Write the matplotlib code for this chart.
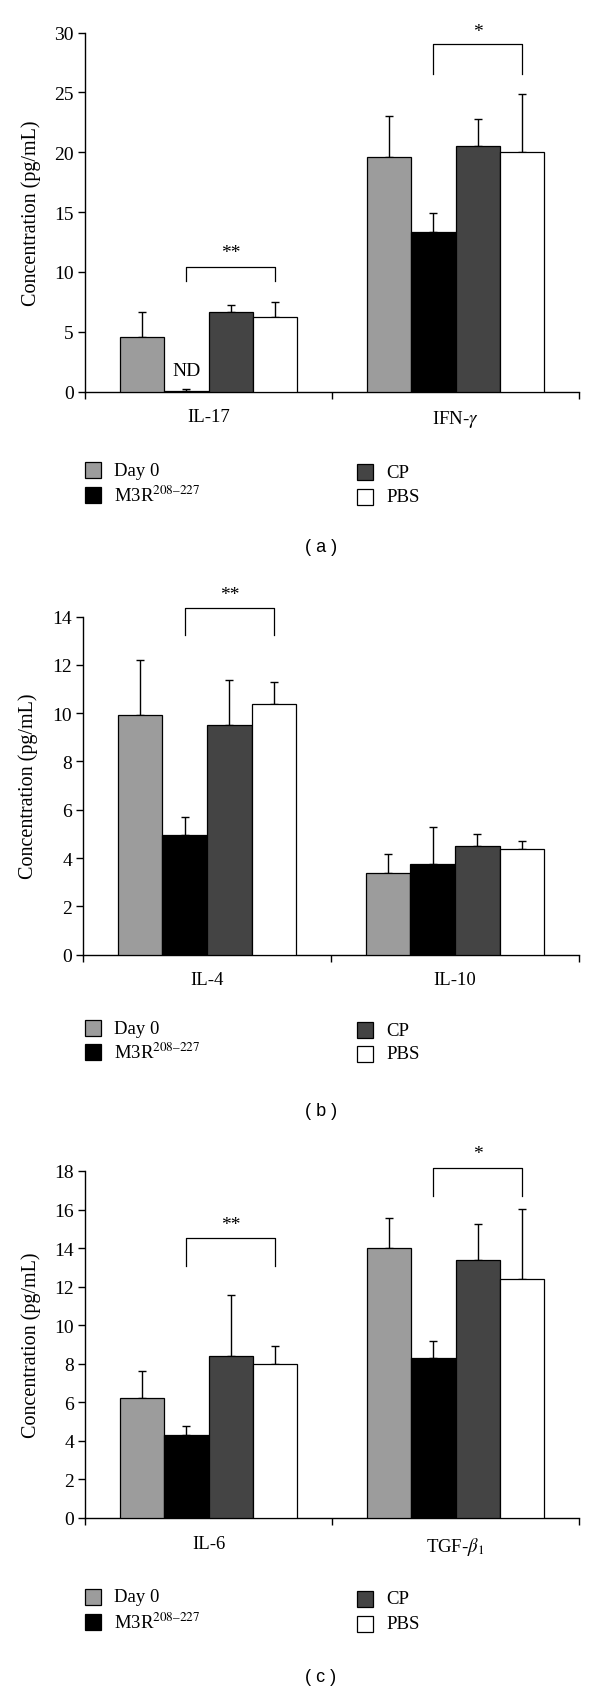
import numpy as np
import matplotlib
matplotlib.use('Agg')
import matplotlib.pyplot as plt
from matplotlib.patches import Rectangle

### Données
groupes = ['Day 0', 'M3R$^{208\u2013227}$', 'CP', 'PBS']
couleurs = ['#9c9c9c', '#000000', '#444444', '#ffffff']

# Panneau (a)
cyto_a = ['IL-17', 'IFN-$\\gamma$']
moy_a = {'Day 0': [4.6, 19.64], 'M3R': [0.1, 13.34], 'CP': [6.63, 20.5], 'PBS': [6.27, 20.0]}
err_a = {'Day 0': [2.03, 3.35], 'M3R': [0.15, 1.62], 'CP': [0.62, 2.25], 'PBS': [1.25, 4.87]}
ticks_a = [0, 5, 10, 15, 20, 25, 30]
sig_a = [(0, 9.25, 10.39, '**', 11.6), (1, 26.57, 29.0, '*', 30.1)]

# Panneau (b)
cyto_b = ['IL-4', 'IL-10']
moy_b = {'Day 0': [9.92, 3.39], 'M3R': [4.97, 3.75], 'CP': [9.5, 4.52], 'PBS': [10.38, 4.38]}
err_b = {'Day 0': [2.28, 0.78], 'M3R': [0.75, 1.53], 'CP': [1.89, 0.46], 'PBS': [0.89, 0.34]}
ticks_b = [0, 2, 4, 6, 8, 10, 12, 14]
sig_b = [(0, 13.22, 14.37, '**', 14.93)]

# Panneau (c)
cyto_c = ['IL-6', 'TGF-$\\beta_1$']
moy_c = {'Day 0': [6.22, 14.0], 'M3R': [4.32, 8.31], 'CP': [8.39, 13.38], 'PBS': [7.97, 12.4]}
err_c = {'Day 0': [1.39, 1.57], 'M3R': [0.45, 0.87], 'CP': [3.16, 1.89], 'PBS': [0.94, 3.62]}
ticks_c = [0, 2, 4, 6, 8, 10, 12, 14, 16, 18]
sig_c = [(0, 13.06, 14.51, '**', 15.23), (1, 16.7, 18.15, '*', 18.9)]

cles = ['Day 0', 'M3R', 'CP', 'PBS']

#############################################################
##################### Figure ###############################
#############################################################
plt.rcParams.update({'font.family': 'Liberation Serif',
                     'mathtext.fontset': 'stix',
                     'font.size': 14})

fig = plt.figure(figsize=(6, 16.9), dpi=100)
W, H = 600., 1690.

largeur = 0.18

def panneau(haut_px, bas_px, gauche_px, cyto, moy, err, ticks, sig, lettre, leg_px, lab_px):
    ax = fig.add_axes([gauche_px / W, 1 - bas_px / H, (579 - gauche_px) / W, (bas_px - haut_px) / H])
    centres = np.array([0.5, 1.5])
    for i, cle in enumerate(cles):
        x = centres + (i - 1.5) * largeur
        ax.bar(x, moy[cle], width=largeur, color=couleurs[i], edgecolor='black',
               linewidth=0.9, zorder=3)
        ax.errorbar(x, moy[cle], yerr=[np.zeros(len(x)), err[cle]], fmt='none',
                    ecolor='black', elinewidth=1.0, capsize=3, capthick=1.0, zorder=2)

    # crochets de significativité (M3R vs PBS)
    for g, bas, haut, etoiles, y_et in sig:
        x1 = centres[g] - 0.5 * largeur
        x2 = centres[g] + 1.5 * largeur
        ax.plot([x1, x1, x2, x2], [bas, haut, haut, bas], color='black', lw=0.9, clip_on=False)
        ax.text((x1 + x2) / 2, y_et, etoiles, ha='center', va='center', fontsize=14)

    ax.set_xlim(0, 2)
    ax.set_ylim(0, ticks[-1])
    ax.set_yticks(ticks)
    ax.set_xticks([0, 1, 2])
    ax.set_xticklabels([])
    ax.set_xticks(centres, minor=True)
    ax.set_xticklabels(cyto, minor=True, fontsize=13.5)
    ax.tick_params(axis='x', which='minor', length=0, pad=12)
    ax.tick_params(axis='both', which='major', direction='out', length=5, width=1)
    ax.tick_params(axis='y', pad=3, labelsize=14)
    for s in ['top', 'right']:
        ax.spines[s].set_visible(False)
    for s in ['left', 'bottom']:
        ax.spines[s].set_linewidth(1.0)
    ax.set_ylabel('Concentration (pg/mL)', fontsize=14.5)
    ax.yaxis.set_label_coords(-0.09, 0.5)

    # légende à la main
    y1, y2 = leg_px
    for i, nom in enumerate(groupes):
        col = i // 2
        yy = [y1, y2][i % 2] + 2 * col
        xq = [85, 357][col]
        fig.add_artist(Rectangle((xq / W, 1 - (yy + 8) / H), 16 / W, 16 / H,
                                 facecolor=couleurs[i], edgecolor='black', lw=0.9,
                                 transform=fig.transFigure))
        fig.text((xq + 29) / W, 1 - yy / H, nom, ha='left', va='center', fontsize=13.5)

    fig.text(321 / W, 1 - lab_px / H, '( ' + lettre + ' )', ha='center', va='center',
             fontsize=13, family='Liberation Sans')
    return ax

ax_a = panneau(33.5, 392.7, 85, cyto_a, moy_a, err_a, ticks_a, sig_a, 'a', (471, 496), 548)
ax_a.text(0.5 - 0.5 * largeur, 1.8, 'ND', ha='center', va='center', fontsize=14)
ax_b = panneau(617.5, 955.8, 83, cyto_b, moy_b, err_b, ticks_b, sig_b, 'b', (1029, 1053), 1111)
ax_c = panneau(1172, 1519, 85, cyto_c, moy_c, err_c, ticks_c, sig_c, 'c', (1598, 1623), 1678)

plt.savefig('out.png', dpi=100)
plt.close()
